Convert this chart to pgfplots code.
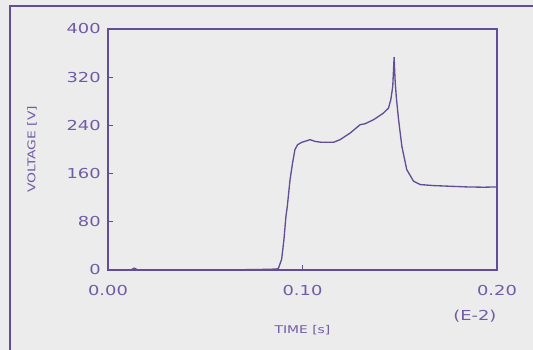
\documentclass[border=0pt]{standalone}
\usepackage{pgfplots}
\pgfplotsset{compat=1.18}
\usepackage{fontspec}
\setmainfont{DejaVu Sans}[FakeStretch=1.3]
\definecolor{bg}{RGB}{236,236,236}
\definecolor{ln}{RGB}{98,78,150}
\definecolor{tx}{RGB}{112,92,165}
\begin{document}
\begin{tikzpicture}
\fill[bg] (-81pt,-60pt) rectangle (318.75pt,202.5pt);
\useasboundingbox (-81pt,-60pt) rectangle (318.75pt,202.5pt);
\begin{axis}[
  at={(0,0)}, anchor=south west,
  scale only axis, width=291.75pt, height=180.75pt,
  xmin=0, xmax=0.2, ymin=0, ymax=400,
  axis line style={ln, line width=0.8pt},
  xtick={0,0.1,0.2}, xticklabels={0.00,0.10,0.20},
  ytick={0,80,160,240,320,400},
  tick align=inside, tick pos=left,
  major tick length=3.5pt,
  tick style={ln, line width=0.7pt},
  /pgf/number format/assume math mode=true,
  ticklabel style={font=\fontsize{10.3}{12}\selectfont, text=tx},
  xticklabel style={yshift=-8pt},
  yticklabel style={xshift=-2pt},
  xlabel={TIME [s]},
  label style={font=\fontsize{8}{9}\selectfont, text=tx},
  xlabel style={at={(axis description cs:0.5,0)}, anchor=center, yshift=-45pt},
  clip=false,
]
\addplot[ln, line width=1pt] coordinates {
(0,0.5) (0.012,0.5) (0.0135,3) (0.015,0.5) (0.04,0.5) (0.07,0.5) (0.08,1) (0.086,1.5)
(0.08755,2.2) (0.08927,17.7) (0.09047,50.8) (0.0915,89.4) (0.0922,105.9)
(0.0936,150) (0.0949,177.7) (0.0961,199.7) (0.0975,208) (0.0996,211.9)
(0.1039,216.3) (0.1064,213.5) (0.1099,211.9) (0.1159,211.9) (0.1193,216.3)
(0.1245,227.3) (0.1296,241.1) (0.1322,242.8) (0.1365,249.4) (0.1416,260.4)
(0.1442,268.7) (0.1454,282.5) (0.1464,304.6) (0.1471,353.1) (0.1476,315.6)
(0.1482,288) (0.1494,249.4) (0.1511,205.2) (0.1536,166.6) (0.1571,147.3)
(0.1605,141.8) (0.1674,140.1) (0.1845,137.9) (0.1931,137.4) (0.2,137.9)
};
\node[font=\fontsize{10.3}{12}\selectfont, text=tx] at (axis description cs:0.943,0) [yshift=-35pt] {(E-2)};
\end{axis}
\node[rotate=90, font=\fontsize{8}{9}\selectfont, text=tx] at (-57pt,90.4pt) {VOLTAGE [V]};
\draw[ln, line width=1.5pt] (-73.5pt,-60pt) -- (-73.5pt,198pt) -- (318.75pt,198pt);
\end{tikzpicture}
\end{document}
